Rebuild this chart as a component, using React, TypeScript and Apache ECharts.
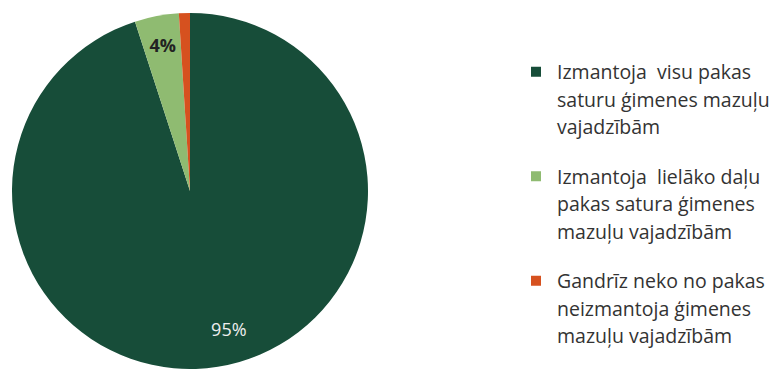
import React, { useEffect, useRef } from "react";
import * as echarts from "echarts";

const categories = [
  "Izmantoja  visu pakas\nsaturu ģimenes mazuļu\nvajadzībām",
  "Izmantoja  lielāko daļu\npakas satura ģimenes\nmazuļu vajadzībām",
  "Gandrīz neko no pakas\nneizmantoja ģimenes\nmazuļu vajadzībām",
];
const values = [95, 4, 1];
const labels = ["95%", "4%", ""];
const colors = ["#174d39", "#8fbb71", "#d6511f"];

export default function App() {
  const ref = useRef<HTMLDivElement>(null);
  useEffect(() => {
    if (!ref.current) return;
    const chart = echarts.init(ref.current, undefined, { renderer: "svg" });
    const font = "'Open Sans', 'Noto Sans', sans-serif";
    chart.setOption({
      animation: false,
      backgroundColor: "#ffffff",
      color: colors,
      legend: {
        orient: "vertical",
        left: 531,
        top: 3,
        padding: 0,
        itemWidth: 10,
        itemHeight: 10,
        itemGap: -33,
        icon: "rect",
        selectedMode: false,
        data: categories,
        formatter: (name: string) => "\u00a0\n\u00a0\n" + name,
        textStyle: {
          fontFamily: font,
          fontSize: 19.5,
          color: "#333333",
          lineHeight: 27.5,
          padding: [0, 0, 0, 11],
        },
      },
      series: [
        {
          type: "pie",
          center: [190, 191],
          radius: [0, 178],
          startAngle: 90,
          clockwise: true,
          silent: true,
          label: { show: false },
          labelLine: { show: false },
          data: categories.map((n, i) => ({ name: n, value: values[i], itemStyle: { color: colors[i] } })),
        },
        {
          type: "pie",
          center: [190, 191],
          radius: [108, 178],
          startAngle: 90,
          clockwise: true,
          silent: true,
          itemStyle: { color: "rgba(0,0,0,0)" },
          labelLine: { show: false },
          label: {
            show: true,
            position: "inside",
            fontFamily: font,
            fontSize: 18,
            formatter: (p: any) => labels[p.dataIndex],
          },
          data: categories.map((n, i) => ({
            name: n,
            value: values[i],
            label:
              i === 0
                ? { color: "#eeeeee", offset: [16, -6] }
                : { color: "#222222", fontWeight: "bold", offset: [0, -3] },
          })),
        },
      ],
    });
    return () => chart.dispose();
  }, []);
  return (
    <div
      ref={ref}
      style={{ position: "fixed", left: 0, top: 0, width: 779, height: 369 }}
    />
  );
}
